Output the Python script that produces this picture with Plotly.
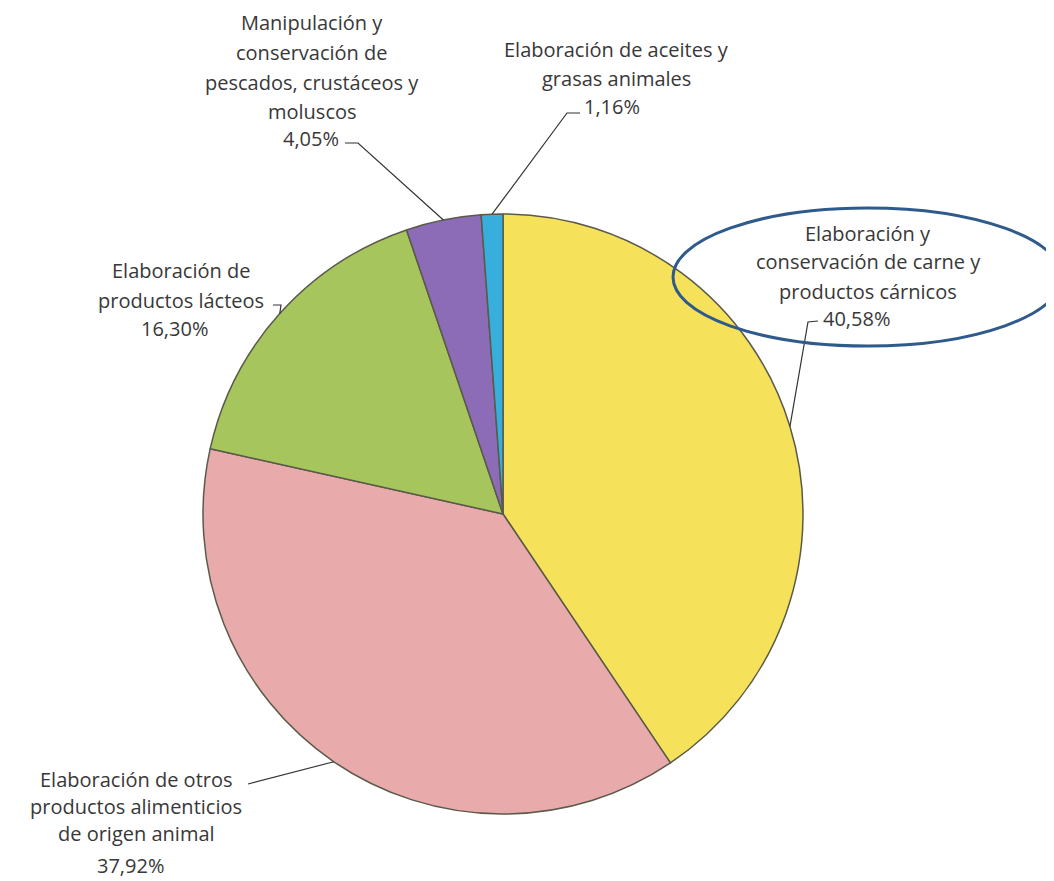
import math
import plotly.graph_objects as go

# ---- data ----
categories = [
    "Elaboración y conservación de carne y productos cárnicos",
    "Elaboración de otros productos alimenticios de origen animal",
    "Elaboración de productos lácteos",
    "Manipulación y conservación de pescados, crustáceos y moluscos",
    "Elaboración de aceites y grasas animales",
]
shares = [40.58, 37.92, 16.30, 4.05, 1.16]
pct_labels = ["40,58%", "37,92%", "16,30%", "4,05%", "1,16%"]
label_lines = [
    ["Elaboración y", "conservación de carne y", "productos cárnicos"],
    ["Elaboración de otros", "productos alimenticios", "de origen animal"],
    ["Elaboración de", "productos lácteos"],
    ["Manipulación y", "conservación de", "pescados, crustáceos y", "moluscos"],
    ["Elaboración de aceites y", "grasas animales"],
]
colors = ["#F5E25A", "#E8AAAA", "#A6C55C", "#8C6CB6", "#38AEDC"]

# ---- layout geometry (pixels in the final screenshot) ----
W, H = 1054, 881
OFF = 8  # page body margin
CX, CY, R = 503, 514, 300

def px(x):
    return (x - OFF) / W

def py(y):
    return 1 - (y - OFF) / H

# label text placement: (center x, first-line y, line spacing)
label_pos = [
    (868, 233, 29),
    (136, 779, 27),
    (181, 271, 29),
    (312, 23, 29.5),
    (616, 49, 30),
]
pct_pos = [(856, 319), (130, 865), (174, 328), (311, 138), (612, 106)]
# leader line start points near labels
leader_start = [
    [(818, 321), (808, 322)],
    [(248, 784)],
    [(273, 305), (281, 305)],
    [(345, 143), (358, 143)],
    [(580, 113), (567, 113)],
]

fig = go.Figure(go.Pie(
    labels=categories,
    values=shares,
    sort=False,
    direction="clockwise",
    rotation=0,
    textinfo="none",
    hoverinfo="label+percent",
    marker=dict(colors=colors, line=dict(color="#5a5a4a", width=1.5)),
    domain=dict(x=[px(CX - R), px(CX + R)], y=[py(CY + R), py(CY - R)]),
    showlegend=False,
))

font = dict(family="Open Sans, sans-serif", size=20, color="#383838")
annotations = []
shapes = []
total = sum(shares)
cum = 0.0
for i, v in enumerate(shares):
    mid = (cum + v / 2) / total * 2 * math.pi
    cum += v
    ex = CX + R * math.sin(mid)
    ey = CY - R * math.cos(mid)
    lx, ly0, dy = label_pos[i]
    for j, line in enumerate(label_lines[i]):
        annotations.append(dict(x=px(lx), y=py(ly0 + j * dy), xref="paper", yref="paper",
                                text=line, showarrow=False, font=font,
                                xanchor="center", yanchor="middle", borderpad=0))
    annotations.append(dict(x=px(pct_pos[i][0]), y=py(pct_pos[i][1]), xref="paper", yref="paper",
                            text=pct_labels[i], showarrow=False, font=font,
                            xanchor="center", yanchor="middle", borderpad=0))
    pts = leader_start[i] + [(ex, ey)]
    path = "M " + " L ".join(f"{px(a):.5f},{py(b):.5f}" for a, b in pts)
    shapes.append(dict(type="path", path=path, xref="paper", yref="paper",
                       line=dict(color="#333333", width=1.2)))

# highlight ellipse around the largest category
shapes.append(dict(type="circle", xref="paper", yref="paper",
                   x0=px(673), x1=px(1062), y0=py(346), y1=py(208),
                   line=dict(color="#2F5A8C", width=3)))

fig.update_layout(
    width=W, height=H,
    margin=dict(l=0, r=0, t=0, b=0),
    paper_bgcolor="white",
    plot_bgcolor="white",
    annotations=annotations,
    shapes=shapes,
)

fig.write_html("out.html")
